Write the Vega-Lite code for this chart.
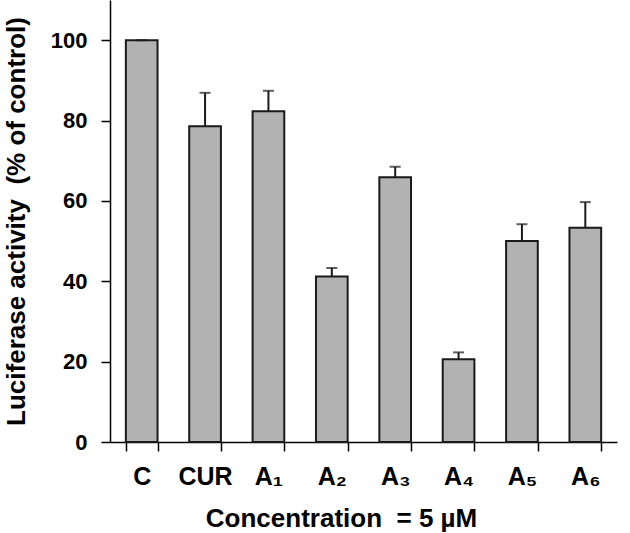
{
  "$schema": "https://vega.github.io/schema/vega-lite/v6.json",
  "autosize": "none",
  "width": 507,
  "height": 442,
  "padding": {"left": 110, "top": 0, "right": 13, "bottom": 91},
  "background": "white",
  "config": {
    "view": {"stroke": null},
    "font": "Liberation Sans"
  },
  "data": {
    "values": [
      {"compound": "C", "value": 100, "upper": 100},
      {"compound": "CUR", "value": 78.6, "upper": 86.9},
      {"compound": "A₁", "value": 82.3, "upper": 87.4},
      {"compound": "A₂", "value": 41.2, "upper": 43.3},
      {"compound": "A₃", "value": 65.9, "upper": 68.5},
      {"compound": "A₄", "value": 20.6, "upper": 22.3},
      {"compound": "A₅", "value": 50.0, "upper": 54.2},
      {"compound": "A₆", "value": 53.3, "upper": 59.7}
    ]
  },
  "encoding": {
    "x": {
      "field": "compound",
      "type": "nominal",
      "sort": null,
      "scale": {"paddingInner": 0.5, "paddingOuter": 0.25, "align": 0.5},
      "axis": {
        "title": "Concentration\u00a0 = 5 µM",
        "titleFont": "Liberation Sans",
        "titleFontSize": 26,
        "titleFontWeight": "bold",
        "titleColor": "black",
        "titleX": 231,
        "titlePadding": 16,
        "labelAngle": 0,
        "labelFont": "Liberation Sans",
        "labelFontSize": 25,
        "labelFontWeight": "bold",
        "labelColor": "black",
        "labelPadding": 13,
        "tickBand": "extent",
        "tickSize": 9,
        "tickColor": "black",
        "tickWidth": 1.5,
        "domainColor": "black",
        "domainWidth": 1.5
      }
    }
  },
  "layer": [
    {
      "mark": {"type": "bar", "fill": "#b2b2b2", "stroke": "#1a1a1a", "strokeWidth": 2},
      "encoding": {
        "y": {
          "field": "value",
          "type": "quantitative",
          "scale": {"domain": [0, 110], "nice": false},
          "axis": {
            "title": "Luciferase activity\u00a0 (% of control)",
            "titleFont": "Liberation Sans",
            "titleFontSize": 26,
            "titleFontWeight": "bold",
            "titleColor": "black",
            "titlePadding": 21,
            "values": [0, 20, 40, 60, 80, 100],
            "grid": false,
            "labelFont": "Liberation Sans",
            "labelFontSize": 22,
            "labelFontWeight": "bold",
            "labelColor": "black",
            "labelPadding": 14,
            "tickSize": 9,
            "tickColor": "black",
            "tickWidth": 1.5,
            "domainColor": "black",
            "domainWidth": 1.5
          }
        }
      }
    },
    {
      "mark": {"type": "rule", "color": "#1a1a1a", "strokeWidth": 2},
      "encoding": {
        "y": {"field": "value", "type": "quantitative"},
        "y2": {"field": "upper"}
      }
    },
    {
      "mark": {"type": "tick", "color": "#1a1a1a", "thickness": 2, "size": 11},
      "encoding": {
        "y": {"field": "upper", "type": "quantitative"}
      }
    }
  ]
}
